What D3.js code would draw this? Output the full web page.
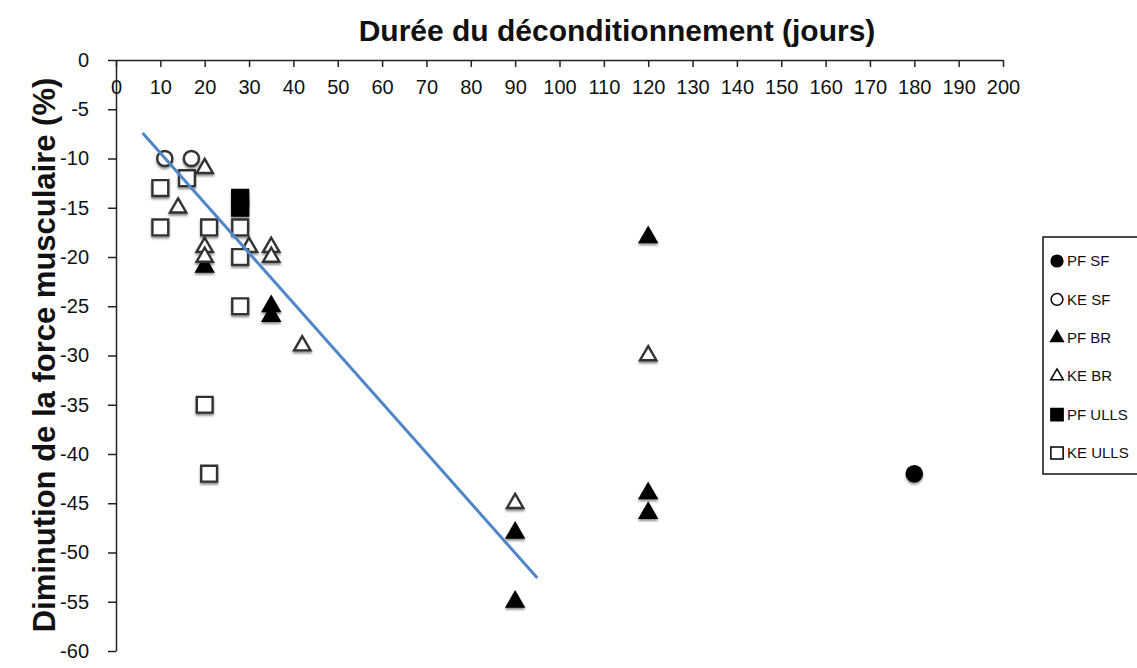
<!DOCTYPE html>
<html><head><meta charset="utf-8">
<script src="https://cdn.jsdelivr.net/npm/d3@7"></script>
<style>
body{margin:0;background:#fff;}
svg{display:block;font-family:"Liberation Sans",Arial,sans-serif;}
</style></head>
<body><svg id="c" width="1137" height="668"></svg>
<script>
// ---- data ----
const xTicks = [0,10,20,30,40,50,60,70,80,90,100,110,120,130,140,150,160,170,180,190,200];
const yTicks = [0,-5,-10,-15,-20,-25,-30,-35,-40,-45,-50,-55,-60];
const seriesNames = ["PF SF","KE SF","PF BR","KE BR","PF ULLS","KE ULLS"];
const pfSF_x = [180];
const pfSF_y = [-42];
const keSF_x = [11, 17];
const keSF_y = [-10, -10];
const pfBR_x = [20, 35, 35, 90, 90, 120, 120, 120];
const pfBR_y = [-21, -25, -26, -48, -55, -18, -44, -46];
const keBR_x = [20, 14, 20, 20, 30, 35, 35, 42, 90, 120];
const keBR_y = [-11, -15, -19, -20, -19, -19, -20, -29, -45, -30];
const pfULLS_x = [28, 28];
const pfULLS_y = [-14, -15];
const keULLS_x = [16, 10, 10, 21, 28, 28, 28, 20, 21];
const keULLS_y = [-12, -13, -17, -17, -17, -20, -25, -35, -42];
const trendX = [6, 95];
const trendY = [-7.4, -52.6];

// ---- layout ----
const svg = d3.select("#c");
const x = d3.scaleLinear().domain([0,200]).range([116,1003]);
const y = d3.scaleLinear().domain([0,-60]).range([60,651]);

const defs = svg.append("defs");
const f = defs.append("filter").attr("id","sh").attr("x","-50%").attr("y","-50%").attr("width","200%").attr("height","200%");
f.append("feDropShadow").attr("dx",0).attr("dy",2).attr("stdDeviation",1.2).attr("flood-color","#000").attr("flood-opacity",0.45);

// axes
const xAxis = d3.axisBottom(x).tickValues(xTicks).tickSize(7).tickSizeOuter(0).tickPadding(13);
const gx = svg.append("g").attr("transform","translate(0,60)").call(xAxis);
gx.selectAll("text").attr("font-size",20).attr("fill","#111").attr("font-family","Liberation Sans, Arial, sans-serif");
gx.select(".domain").attr("stroke","#222").attr("stroke-width",1.5);
gx.selectAll(".tick line").attr("stroke","#222").attr("stroke-width",1.5);

const yAxis = d3.axisLeft(y).tickValues(yTicks).tickSize(8).tickSizeOuter(0).tickPadding(19);
const gy = svg.append("g").attr("transform","translate(116,0)").call(yAxis);
gy.selectAll("text").attr("font-size",20).attr("fill","#111").attr("font-family","Liberation Sans, Arial, sans-serif").text(d=>d);
gy.select(".domain").attr("stroke","#222").attr("stroke-width",1.5);
gy.selectAll(".tick line").attr("stroke","#222").attr("stroke-width",1.5);

// titles
svg.append("text").attr("x",617).attr("y",41).attr("text-anchor","middle")
  .attr("font-size",30).attr("font-weight","bold").attr("fill","#111")
  .text("Durée du déconditionnement (jours)");
svg.append("text").attr("transform","translate(55,355) rotate(-90)").attr("text-anchor","middle")
  .attr("font-size",31).attr("font-weight","bold").attr("fill","#111")
  .text("Diminution de la force musculaire (%)");

// series
const styles = [
  {xs:pfSF_x, ys:pfSF_y, type:d3.symbolCircle, size:180, fill:"#000"},
  {xs:keSF_x, ys:keSF_y, type:d3.symbolCircle, size:180, fill:"#fff"},
  {xs:pfBR_x, ys:pfBR_y, type:d3.symbolTriangle, size:115, fill:"#000"},
  {xs:keBR_x, ys:keBR_y, type:d3.symbolTriangle, size:115, fill:"#fff"},
  {xs:pfULLS_x, ys:pfULLS_y, type:d3.symbolSquare, size:250, fill:"#000"},
  {xs:keULLS_x, ys:keULLS_y, type:d3.symbolSquare, size:250, fill:"#fff"}
];
styles.forEach(s=>{
  const pts = s.xs.map((v,i)=>[v, s.ys[i]]);
  svg.append("g").attr("filter","url(#sh)").selectAll("path").data(pts).enter().append("path")
    .attr("d", d3.symbol().type(s.type).size(s.size))
    .attr("transform", d=>`translate(${x(d[0])},${y(d[1])})`)
    .attr("fill", s.fill).attr("stroke", s.fill==="#000"?"#000":"#333").attr("stroke-width",2.4);
});

// trend line
const tpts = trendX.map((v,i)=>[v,trendY[i]]);
svg.append("path").datum(tpts)
  .attr("d", d3.line().x(d=>x(d[0])).y(d=>y(d[1])))
  .attr("stroke","#4f86c6").attr("stroke-width",3).attr("fill","none");

// legend
const lg = svg.append("g");
lg.append("rect").attr("x",1043).attr("y",237).attr("width",110).attr("height",237)
  .attr("fill","#fff").attr("stroke","#111").attr("stroke-width",1.5);
styles.forEach((s,i)=>{
  const yy = 261 + i*38.4;
  lg.append("path").attr("d", d3.symbol().type(s.type).size(s.size*0.6))
    .attr("transform",`translate(1057,${yy})`)
    .attr("fill", s.fill).attr("stroke","#000").attr("stroke-width",1.5);
  lg.append("text").attr("x",1067).attr("y",yy).attr("dy","0.35em")
    .attr("font-size",15).attr("fill","#111").text(seriesNames[i]);
});
</script></body></html>
